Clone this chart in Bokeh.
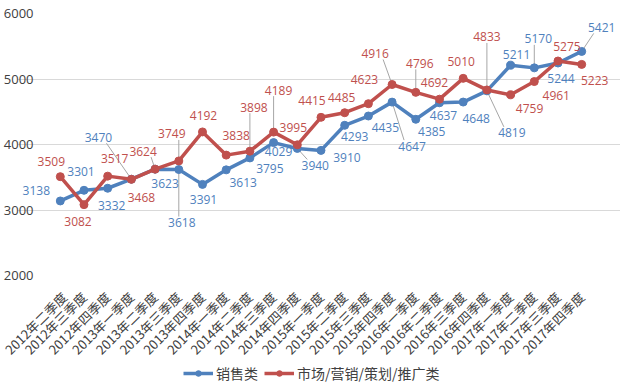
import numpy as np
from bokeh.plotting import figure
from bokeh.layouts import column
from bokeh.models import FixedTicker, Legend, LegendItem, Range1d, LabelSet, ColumnDataSource
from bokeh.core.properties import value
from bokeh.embed import file_html
from bokeh.resources import INLINE

# ---------------- data ----------------
categories = [
    "2012年二季度", "2012年三季度", "2012年四季度",
    "2013年一季度", "2013年二季度", "2013年三季度", "2013年四季度",
    "2014年一季度", "2014年二季度", "2014年三季度", "2014年四季度",
    "2015年一季度", "2015年二季度", "2015年三季度", "2015年四季度",
    "2016年一季度", "2016年二季度", "2016年三季度", "2016年四季度",
    "2017年一季度", "2017年二季度", "2017年三季度", "2017年四季度",
]
sales = [3138, 3301, 3332, 3470, 3623, 3618, 3391, 3613, 3795, 4029, 3940, 3910,
         4293, 4435, 4647, 4385, 4637, 4648, 4819, 5211, 5170, 5244, 5421]
marketing = [3509, 3082, 3517, 3468, 3624, 3749, 4192, 3838, 3898, 4189, 3995, 4415,
             4485, 4623, 4916, 4796, 4692, 5010, 4833, 4759, 4961, 5275, 5223]
series_names = ["销售类", "市场/营销/策划/推广类"]
y_ticks = [2000, 3000, 4000, 5000, 6000]

# ---------------- label placement (screen px, +dy = down) ----------------
sales_dx = [-24, -3, 4, -33, 10, 3, 1, 17, 20, 5, 18, 26, 10, 17, 20, 16, 4, 13, 25, 6, 4, 3, 20]
sales_dy = [-10, -19, 17, -42, 14, 53, 15, 13, 11, 9, 17, 7, 11, 11, 44, 12, 13, 16, 42, -11, -29, 15, -24]
sales_leader = [0, 0, 0, 1, 0, 1, 0, 0, 0, 0, 1, 0, 0, 0, 1, 0, 0, 0, 1, 0, 1, 0, 1]
mkt_dx = [-9, -6, 7, 10, -12, -7, 1, 10, 4, 5, -4, -9, -3, -4, -17, 4, -5, -2, 0, 19, 22, 9, 13]
mkt_dy = [-15, 17, -18, 18, -18, -27, -16, -20, -44, -42, -17, -17, -15, -24, -31, -29, -17, -17, -53, 14, 14, -14, 16]
mkt_leader = [0, 0, 0, 0, 1, 1, 0, 0, 1, 1, 0, 0, 0, 0, 1, 1, 0, 0, 1, 0, 0, 0, 0]

BLUE = "#4f81bd"
RED = "#c0504d"
W = 620
GRID_LEFT = 47                    # where the gridded area starts
GRID_W = 546                      # width of the gridded area
B_LEFT, B_TOP, B_BOTTOM = 16, 13, 100
FRAME_H = 262
H_CHART = B_TOP + FRAME_H + B_BOTTOM
FRAME_W = W - B_LEFT              # frame spans nearly the whole width so labels are not clipped
Y0, Y1 = y_ticks[0], y_ticks[-1]
n = len(categories)
px_x = GRID_W / n
px_y = FRAME_H / (Y1 - Y0)
x_start = -0.5 - (GRID_LEFT - B_LEFT) / px_x
x_end = x_start + FRAME_W / px_x

p = figure(width=W, height=H_CHART,
           x_range=Range1d(x_start, x_end), y_range=Range1d(Y0, Y1),
           output_backend="svg", toolbar_location=None,
           min_border_left=B_LEFT, min_border_right=0,
           min_border_top=B_TOP, min_border_bottom=B_BOTTOM)
p.outline_line_color = None
p.background_fill_color = "white"
p.border_fill_color = "white"

xs = list(range(n))
p.xaxis.ticker = FixedTicker(ticks=xs)
p.xaxis.major_label_overrides = {i: c for i, c in enumerate(categories)}
p.xaxis.major_label_orientation = np.pi / 4
p.xaxis.major_label_text_font = "Noto Sans CJK SC"
p.xaxis.major_label_text_font_size = "13px"
p.xaxis.major_label_text_color = "#404040"
p.xaxis.major_label_standoff = 13
p.yaxis.ticker = FixedTicker(ticks=y_ticks)
p.yaxis.major_label_text_font = "Open Sans"
p.yaxis.major_label_text_font_size = "13px"
p.yaxis.major_label_text_color = "#404040"
p.yaxis.major_label_standoff = -(38 - B_LEFT)
for ax in (p.xaxis, p.yaxis):
    ax.axis_line_color = None
    ax.major_tick_line_color = None
    ax.minor_tick_line_color = None
p.xgrid.visible = False
p.ygrid.grid_line_color = "#d9d9d9"
p.ygrid.grid_line_width = 1
p.ygrid.bounds = (-0.5, n - 0.5)


def leaders(vals, dx, dy, flags):
    x0s, y0s, x1s, y1s = [], [], [], []
    for i, (v, a, b, f) in enumerate(zip(vals, dx, dy, flags)):
        if not f:
            continue
        sx = a - np.sign(a) * min(abs(a), 8)
        sy = b - np.sign(b) * 6
        x0s.append(i + sx / px_x)
        y0s.append(v - sy / px_y)
        x1s.append(i)
        y1s.append(v)
    return x0s, y0s, x1s, y1s


for vals, dx, dy, fl in ((sales, sales_dx, sales_dy, sales_leader),
                         (marketing, mkt_dx, mkt_dy, mkt_leader)):
    x0, y0, x1, y1 = leaders(vals, dx, dy, fl)
    p.segment(x0, y0, x1, y1, line_color="#a6a6a6", line_width=1)

p.line(xs, sales, line_color=BLUE, line_width=3.5)
p.scatter(xs, sales, size=8, fill_color=BLUE, line_color=BLUE)
p.line(xs, marketing, line_color=RED, line_width=3.5)
p.scatter(xs, marketing, size=8, fill_color=RED, line_color=RED)

for vals, dx, dy, col in ((sales, sales_dx, sales_dy, BLUE),
                          (marketing, mkt_dx, mkt_dy, RED)):
    src = ColumnDataSource(dict(
        x=[i + a / px_x for i, a in enumerate(dx)],
        y=[v - b / px_y for v, b in zip(vals, dy)],
        t=[str(v) for v in vals]))
    p.add_layout(LabelSet(x="x", y="y", text="t", source=src,
                          text_align="center", text_baseline="middle",
                          text_font=value("Open Sans"), text_font_size="12px",
                          text_color=col))

# ---------------- legend (own strip under the chart) ----------------
lg = figure(width=W, height=24, x_range=Range1d(0, 1), y_range=Range1d(0, 1),
            x_axis_type=None, y_axis_type=None, output_backend="svg",
            toolbar_location=None, min_border=0, margin=(-15, 0, 0, 0))
lg.outline_line_color = None
lg.background_fill_alpha = 0
lg.border_fill_alpha = 0
lg.xgrid.visible = False
lg.ygrid.visible = False
items = []
for name, vals, col in zip(series_names, (sales, marketing), (BLUE, RED)):
    # series data lies outside this strip's ranges; only the legend glyphs show
    r1 = lg.line(xs, vals, line_color=col, line_width=3.5)
    r2 = lg.scatter(xs, vals, size=7, fill_color=col, line_color=col)
    items.append(LegendItem(label=name, renderers=[r1, r2]))
legend = Legend(items=items, orientation="horizontal", location=(166, 1),
                border_line_color=None, background_fill_alpha=0,
                label_text_font="Noto Sans CJK SC", label_text_font_size="14px",
                label_text_color="#404040", glyph_width=30, glyph_height=14,
                label_standoff=3, spacing=6, padding=2, margin=0)
lg.add_layout(legend, "center")

layout = column(p, lg, spacing=0)
open("out.html", "w").write(file_html(layout, INLINE))
